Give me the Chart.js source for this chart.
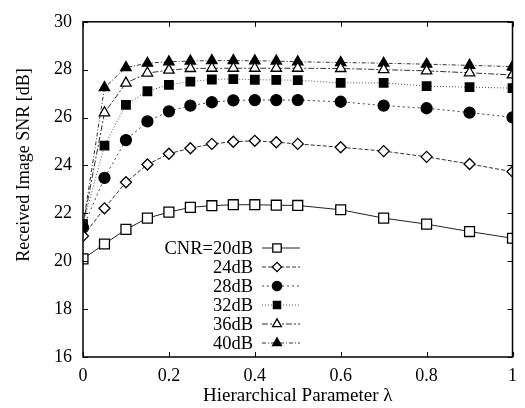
<!DOCTYPE html>
<html>
<head>
<meta charset="utf-8">
<script src="https://cdn.jsdelivr.net/npm/chart.js@4/dist/chart.umd.min.js"></script>
<style>
  html, body { margin: 0; padding: 0; background: #fff; }
  canvas { display: block; }
</style>
</head>
<body>
<canvas id="grafica" width="525" height="408"></canvas>
<script>
// ---- datos ----
var lambdas = [0, 0.05, 0.1, 0.15, 0.2, 0.25, 0.3, 0.35, 0.4, 0.45, 0.5, 0.6, 0.7, 0.8, 0.9, 1.0];
var cnrLabels = ["CNR=20dB", "24dB", "28dB", "32dB", "36dB", "40dB"];

var snr20 = [20.1, 20.72, 21.33, 21.8, 22.05, 22.25, 22.32, 22.36, 22.36, 22.34, 22.33, 22.15, 21.8, 21.55, 21.24, 20.96];
var snr24 = [21.05, 22.21, 23.3, 24.04, 24.49, 24.72, 24.9, 24.99, 25.03, 24.97, 24.9, 24.76, 24.6, 24.36, 24.06, 23.74];
var snr28 = [21.4, 23.48, 25.06, 25.84, 26.26, 26.5, 26.64, 26.72, 26.73, 26.73, 26.73, 26.66, 26.5, 26.39, 26.21, 26.01];
var snr32 = [21.55, 24.83, 26.53, 27.1, 27.37, 27.5, 27.59, 27.61, 27.58, 27.57, 27.56, 27.45, 27.45, 27.31, 27.27, 27.23];
var snr36 = [21.5, 26.2, 27.44, 27.86, 27.98, 28.05, 28.06, 28.06, 28.06, 28.06, 28.06, 28.05, 28.0, 27.95, 27.87, 27.78];
var snr40 = [21.5, 27.25, 28.09, 28.27, 28.33, 28.36, 28.38, 28.38, 28.37, 28.36, 28.33, 28.3, 28.27, 28.23, 28.18, 28.13];

var xTicks = [0, 0.2, 0.4, 0.6, 0.8, 1];
var yTicks = [16, 18, 20, 22, 24, 26, 28, 30];

var tituloX = "Hierarchical Parameter λ";
var tituloY = "Received Image SNR [dB]";

var fuente = "'Liberation Serif', 'DejaVu Serif', serif";

function puntos(valores){
    var res = [];
    for(var i = 0; i < lambdas.length; i++){
        res.push({ x: lambdas[i], y: valores[i] });
    }
    return res;
}

function serie(idx, valores, estilo, relleno, radio, guiones, color){
    return {
        label: cnrLabels[idx],
        data: puntos(valores),
        borderColor: color,
        borderWidth: 1,
        borderDash: guiones,
        pointStyle: estilo,
        pointRadius: radio,
        pointBorderWidth: 1.3,
        pointBorderColor: "#000",
        pointBackgroundColor: relleno,
        tension: 0,
        fill: false
    };
}

var datasets = [
    serie(0, snr20, "rect", "#fff", 7, [], "#222"),
    serie(1, snr24, "rectRot", "#fff", 5.5, [4, 2], "#333"),
    serie(2, snr28, "circle", "#000", 5.5, [2, 3], "#444"),
    serie(3, snr32, "rect", "#000", 6, [1, 2], "#555"),
    serie(4, snr36, "triangle", "#fff", 6, [6, 2, 2, 2], "#333"),
    serie(5, snr40, "triangle", "#000", 6, [4, 2, 1, 2], "#333")
];

// marco tipo gnuplot con marcas hacia adentro + leyenda + titulo Y
var marcoPlugin = {
    id: "marco",
    afterDatasetsDraw: function(chart){
        var ctx = chart.ctx;
        var a = chart.chartArea;
        var sx = chart.scales.x, sy = chart.scales.y;
        ctx.save();
        ctx.strokeStyle = "#000";
        ctx.lineWidth = 1.5;
        ctx.setLineDash([]);
        ctx.strokeRect(a.left, a.top, a.right - a.left, a.bottom - a.top);
        ctx.lineWidth = 1;
        ctx.beginPath();
        xTicks.forEach(function(v){
            var px = Math.round(sx.getPixelForValue(v)) + 0.5;
            ctx.moveTo(px, a.bottom); ctx.lineTo(px, a.bottom - 5);
            ctx.moveTo(px, a.top); ctx.lineTo(px, a.top + 5);
        });
        yTicks.forEach(function(v){
            var py = Math.round(sy.getPixelForValue(v)) + 0.5;
            ctx.moveTo(a.left, py); ctx.lineTo(a.left + 5, py);
            ctx.moveTo(a.right, py); ctx.lineTo(a.right - 5, py);
        });
        ctx.stroke();

        // titulo eje Y (algo por encima del centro, como en el original)
        ctx.save();
        ctx.translate(24, 165);
        ctx.rotate(-Math.PI / 2);
        ctx.font = "18px " + fuente;
        ctx.fillStyle = "#000";
        ctx.textAlign = "center";
        ctx.textBaseline = "middle";
        ctx.fillText(tituloY, 0, 0);
        ctx.restore();

        // leyenda
        var xTexto = a.left + 170;
        var yBase = 248;
        ctx.font = "18.5px " + fuente;
        ctx.textAlign = "right";
        ctx.textBaseline = "middle";
        for(var i = 0; i < datasets.length; i++){
            var d = datasets[i];
            var y = yBase + i * 19;
            ctx.fillStyle = "#000";
            ctx.fillText(d.label, xTexto, y + 1);
            ctx.strokeStyle = d.borderColor;
            ctx.lineWidth = 1;
            ctx.setLineDash(d.borderDash);
            ctx.beginPath();
            ctx.moveTo(xTexto + 9, y);
            ctx.lineTo(xTexto + 47, y);
            ctx.stroke();
            ctx.setLineDash([]);
            ctx.strokeStyle = "#000";
            ctx.fillStyle = d.pointBackgroundColor;
            ctx.lineWidth = 1.3;
            Chart.helpers.drawPoint(ctx, { pointStyle: d.pointStyle, radius: d.pointRadius * 0.85, rotation: 0, borderWidth: 1.3 }, xTexto + 24, y);
        }
        ctx.restore();
    }
};

var grafica = new Chart(document.getElementById("grafica").getContext("2d"), {
    type: "line",
    data: { datasets: datasets },
    options: {
        responsive: false,
        animation: false,
        devicePixelRatio: 1,
        layout: { padding: { top: 13, right: 11, left: 0, bottom: 0 } },
        plugins: { legend: { display: false }, tooltip: { enabled: false } },
        scales: {
            x: {
                type: "linear",
                min: 0,
                max: 1,
                grid: { display: false, drawTicks: false },
                border: { display: false },
                afterBuildTicks: function(scale){
                    scale.ticks = xTicks.map(function(v){ return { value: v }; });
                },
                afterFit: function(scale){ scale.height = 51; },
                ticks: {
                    color: "#000",
                    padding: 8,
                    maxRotation: 0,
                    font: { family: fuente, size: 18 },
                    callback: function(v){ return String(v); }
                },
                title: {
                    display: true,
                    text: tituloX,
                    color: "#000",
                    font: { family: fuente, size: 19 },
                    padding: { top: 0, bottom: 1 }
                }
            },
            y: {
                min: 16,
                max: 30,
                grid: { display: false, drawTicks: false },
                border: { display: false },
                afterBuildTicks: function(scale){
                    scale.ticks = yTicks.map(function(v){ return { value: v }; });
                },
                afterFit: function(scale){ scale.width = 83; },
                ticks: {
                    color: "#000",
                    padding: 11,
                    font: { family: fuente, size: 18 },
                    callback: function(v){ return String(v); }
                },
                title: { display: false }
            }
        }
    },
    plugins: [marcoPlugin]
});
</script>
</body>
</html>
